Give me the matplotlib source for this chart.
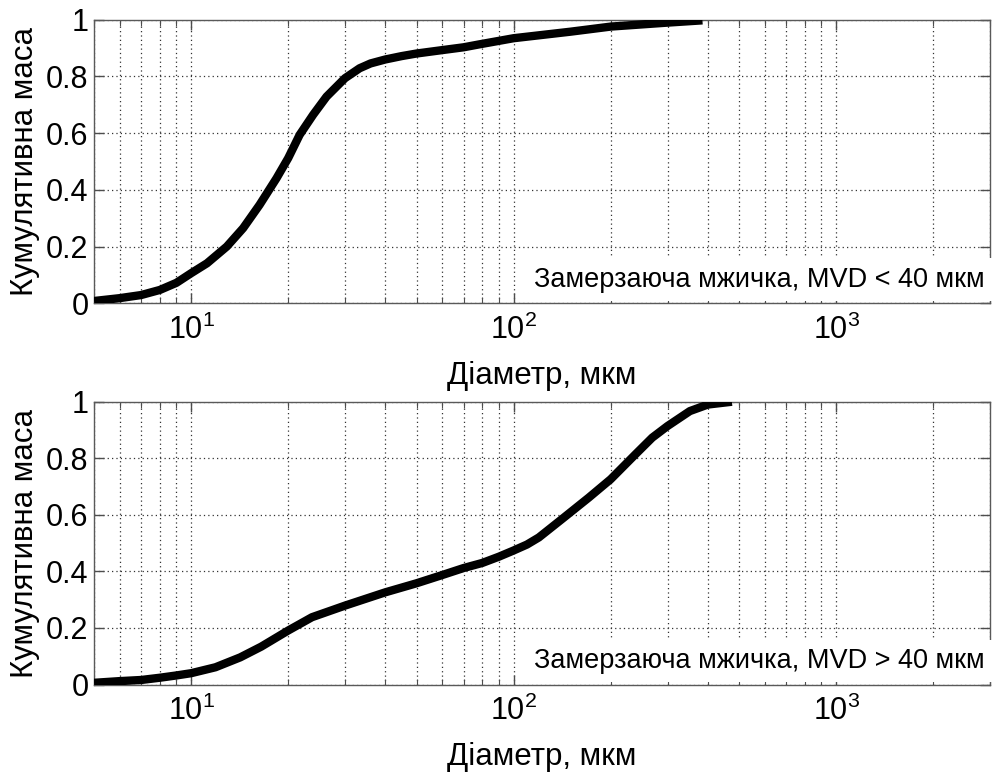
import numpy as np
import matplotlib
matplotlib.use("Agg")
import matplotlib.pyplot as plt
from matplotlib.ticker import LogLocator, NullFormatter

plt.rcParams['font.family'] = ['Liberation Sans', 'DejaVu Sans']
plt.rcParams['mathtext.default'] = 'regular'

# cumulative mass curves, diameter in micrometres
d_small = [5, 6, 7, 8, 9, 10, 11.2, 12.9, 14.5, 16.3, 18.4, 20, 21.7, 23.9,
           26.3, 30, 33.3, 36, 40, 45, 50, 60, 70, 78, 100, 150, 200, 300, 385]
m_small = [0.008, 0.018, 0.029, 0.047, 0.072, 0.106, 0.141, 0.20, 0.265,
           0.347, 0.441, 0.512, 0.594, 0.665, 0.729, 0.794, 0.829, 0.846,
           0.86, 0.872, 0.881, 0.893, 0.903, 0.913, 0.935, 0.958, 0.976,
           0.99, 0.998]

d_large = [5, 6, 7, 8, 9, 10, 11.9, 14.2, 16.5, 20, 23.7, 30, 40, 50, 60, 70,
           80, 90, 100, 110, 119.7, 143, 171, 200, 238.6, 269, 300, 352, 400,
           475]
m_large = [0.006, 0.012, 0.016, 0.024, 0.032, 0.04, 0.061, 0.096, 0.134,
           0.191, 0.238, 0.279, 0.326, 0.358, 0.387, 0.412, 0.43, 0.452,
           0.474, 0.495, 0.52, 0.59, 0.661, 0.726, 0.814, 0.873, 0.914, 0.967,
           0.99, 1.0]

labels = ['Замерзаюча мжичка, MVD < 40 мкм', 'Замерзаюча мжичка, MVD > 40 мкм']
yticks = [0, 0.2, 0.4, 0.6, 0.8, 1]
ytick_labels = ['0', '0.2', '0.4', '0.6', '0.8', '1']
xlabel = 'Діаметр, мкм'
ylabel = 'Кумулятивна маса'

fig = plt.figure(figsize=(9.95, 7.76), dpi=100)
ax1 = fig.add_axes([0.0945, 0.6092, 0.9005, 0.3653])
ax2 = fig.add_axes([0.0945, 0.1179, 0.9005, 0.3644])

for ax, d, m, lab in [(ax1, d_small, m_small, labels[0]),
                      (ax2, d_large, m_large, labels[1])]:
    ax.plot(d, m, color='black', lw=6, solid_capstyle='butt',
            solid_joinstyle='round', zorder=3)
    ax.set_xscale('log')
    ax.set_xlim(5, 3000)
    ax.set_ylim(0, 1)
    ax.xaxis.set_major_locator(LogLocator(base=10, numticks=10))
    ax.xaxis.set_minor_locator(LogLocator(base=10, subs=np.arange(2, 10), numticks=20))
    ax.xaxis.set_minor_formatter(NullFormatter())
    ax.set_yticks(yticks)
    ax.set_yticklabels(ytick_labels)
    ax.grid(True, which='both', axis='x', color='0.2', lw=0.9, ls=(0, (1, 2.5)))
    ax.grid(True, which='major', axis='y', color='0.2', lw=0.9, ls=(0, (1, 2.5)))
    ax.tick_params(which='both', direction='in', top=True, right=True,
                   labelsize=22, color='0.3')
    ax.tick_params(axis='y', pad=4)
    ax.tick_params(axis='x', pad=8)
    ax.tick_params(which='major', length=7, width=1)
    ax.tick_params(which='minor', length=4, width=0.8)
    for s in ax.spines.values():
        s.set_color('0.35')
        s.set_linewidth(1)
    ax.set_xlabel(xlabel, fontsize=22.5, labelpad=11)
    ax.set_ylabel(ylabel, fontsize=22.5, labelpad=4)
    ax.text(0.994, 0.083, lab, transform=ax.transAxes, ha='right', va='center',
            fontsize=19.5, zorder=5,
            bbox=dict(facecolor='white', edgecolor='none', pad=6))

fig.savefig('out.png', dpi=100)
